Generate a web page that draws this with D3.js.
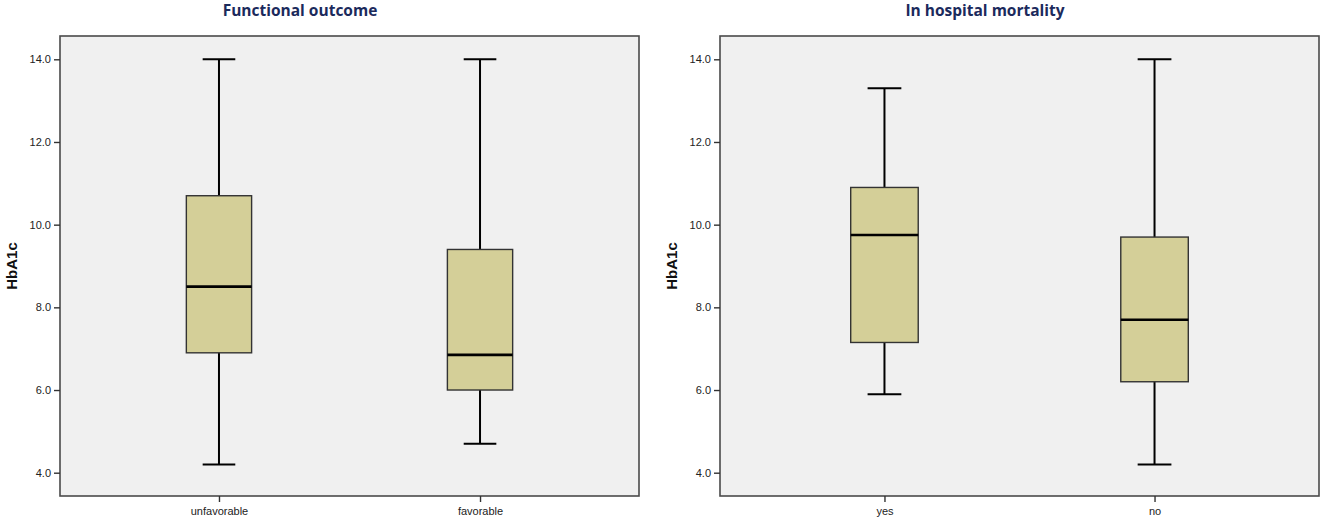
<!DOCTYPE html>
<html>
<head>
<meta charset="utf-8">
<script src="https://cdn.jsdelivr.net/npm/d3@7"></script>
<style>
  body { margin: 0; background: #fff; }
  svg { display: block; }
</style>
</head>
<body>
<svg id="chart" width="1325" height="521"></svg>
<script>
// data
const titles = ['Functional outcome', 'In hospital mortality'];
const catsOutcome = ['unfavorable', 'favorable'];
const catsMortality = ['yes', 'no'];
// [min, q1, median, q3, max]
const statsOutcome = [
    [4.2, 6.9, 8.5, 10.7, 14.0],
    [4.7, 6.0, 6.85, 9.4, 14.0]
];
const statsMortality = [
    [5.9, 7.15, 9.75, 10.9, 13.3],
    [4.2, 6.2, 7.7, 9.7, 14.0]
];
const yTicks = [4, 6, 8, 10, 12, 14];
const yLabel = 'HbA1c';

let svg = d3.select('#chart');

// panel layout
let panels = [
    {x0: 60, x1: 639, titleX: 300, cats: catsOutcome, stats: statsOutcome, title: titles[0]},
    {x0: 720, x1: 1319, titleX: 985, cats: catsMortality, stats: statsMortality, title: titles[1]}
];
let plotTop = 36, plotBottom = 496;

// y scale shared by both panels
let y = d3.scaleLinear().domain([4, 14]).range([472.7, 59.3]);

panels.forEach(p => {
    let g = svg.append('g');

    //背景框
    g.append('rect')
        .attr('x', p.x0).attr('y', plotTop)
        .attr('width', p.x1 - p.x0).attr('height', plotBottom - plotTop)
        .attr('fill', '#f0f0f0')
        .attr('stroke', '#4a4a4a')
        .attr('stroke-width', 1.6);

    let x = d3.scalePoint().domain(p.cats).range([p.x0, p.x1]).padding(0.609);
    let boxW = x.step() * 0.25;
    let capW = boxW * 0.5;

    //y轴
    let yAxis = g.append('g')
        .attr('transform', 'translate(' + p.x0 + ',0)')
        .call(d3.axisLeft(y).tickValues(yTicks).tickFormat(d3.format('.1f')).tickSize(6).tickPadding(3));
    yAxis.select('.domain').remove();
    yAxis.selectAll('line').attr('stroke', '#333').attr('stroke-width', 1.4);
    yAxis.selectAll('text')
        .attr('font-family', 'Liberation Sans, Arial, sans-serif')
        .attr('font-size', 11)
        .attr('fill', '#222');

    //x轴
    let xAxis = g.append('g')
        .attr('transform', 'translate(0,' + plotBottom + ')')
        .call(d3.axisBottom(x).tickSize(6).tickPadding(5));
    xAxis.select('.domain').remove();
    xAxis.selectAll('line').attr('stroke', '#333').attr('stroke-width', 1.4);
    xAxis.selectAll('text')
        .attr('font-family', 'Liberation Sans, Arial, sans-serif')
        .attr('font-size', 11)
        .attr('fill', '#222');

    //标题
    g.append('text')
        .attr('x', p.titleX).attr('y', 16)
        .attr('text-anchor', 'middle')
        .attr('font-family', 'Open Sans, Noto Sans, sans-serif')
        .attr('font-weight', 'bold')
        .attr('font-size', 15.5)
        .attr('fill', '#1b2a5c')
        .text(p.title);

    //y轴标题
    g.append('text')
        .attr('transform', 'translate(' + (p.x0 - 43) + ',' + ((plotTop + plotBottom) / 2) + ') rotate(-90)')
        .attr('text-anchor', 'middle')
        .attr('font-family', 'Liberation Sans, Arial, sans-serif')
        .attr('font-weight', 'bold')
        .attr('font-size', 15)
        .attr('fill', '#111')
        .text(yLabel);

    //箱线图
    let boxes = g.selectAll('g.box')
        .data(p.stats.map((s, i) => ({cat: p.cats[i], s: s})))
        .enter()
        .append('g')
        .attr('class', 'box');

    // whiskers
    boxes.append('line')
        .attr('x1', d => x(d.cat)).attr('x2', d => x(d.cat))
        .attr('y1', d => y(d.s[0])).attr('y2', d => y(d.s[4]))
        .attr('stroke', '#000').attr('stroke-width', 2);
    boxes.selectAll('line.cap')
        .data(d => [{cat: d.cat, v: d.s[0]}, {cat: d.cat, v: d.s[4]}])
        .enter()
        .append('line')
        .attr('class', 'cap')
        .attr('x1', d => x(d.cat) - capW / 2).attr('x2', d => x(d.cat) + capW / 2)
        .attr('y1', d => y(d.v)).attr('y2', d => y(d.v))
        .attr('stroke', '#000').attr('stroke-width', 2);

    // box
    boxes.append('rect')
        .attr('x', d => x(d.cat) - boxW / 2)
        .attr('y', d => y(d.s[3]))
        .attr('width', boxW)
        .attr('height', d => y(d.s[1]) - y(d.s[3]))
        .attr('fill', '#d4cf98')
        .attr('stroke', '#333')
        .attr('stroke-width', 1.4);

    // median
    boxes.append('line')
        .attr('x1', d => x(d.cat) - boxW / 2).attr('x2', d => x(d.cat) + boxW / 2)
        .attr('y1', d => y(d.s[2])).attr('y2', d => y(d.s[2]))
        .attr('stroke', '#000').attr('stroke-width', 2.6);
});
</script>
</body>
</html>
